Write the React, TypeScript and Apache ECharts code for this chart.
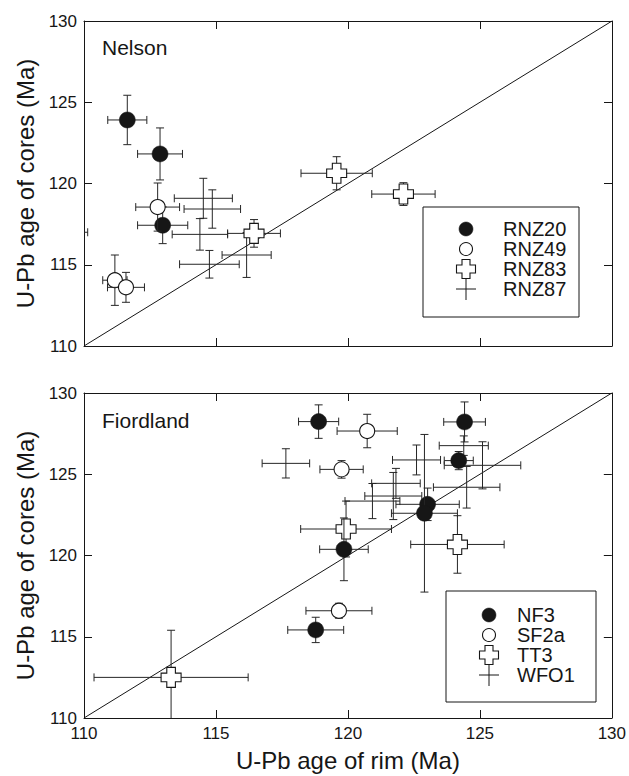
import React, { useEffect, useRef } from 'react';
import * as echarts from 'echarts';

// ---------- data ----------
const AXIS_MIN = 110;
const AXIS_MAX = 130;
const TICK_STEP = 5;
const X_TITLE = 'U-Pb age of rim (Ma)';
const Y_TITLE = 'U-Pb age of cores (Ma)';
const PANEL_NAMES = ['Nelson', 'Fiordland'];

// each row: [rim age, core age, rim error (±), core error (±)]
const RNZ20 = [
  [111.64, 123.91, 0.74, 1.52],
  [112.88, 121.82, 0.85, 1.6],
  [112.98, 117.43, 0.95, 1.13],
];
const RNZ49 = [
  [112.79, 118.55, 0.83, 1.48],
  [111.17, 114.05, 0.46, 1.55],
  [111.59, 113.61, 0.7, 0.92],
];
const RNZ83 = [
  [116.44, 116.93, 1.0, 0.85],
  [119.57, 120.63, 1.35, 1.02],
  [122.1, 119.35, 1.2, 0.7],
];
const RNZ87 = [
  [114.52, 119.09, 1.1, 1.23],
  [114.86, 118.43, 1.07, 1.18],
  [114.39, 116.87, 1.05, 0.97],
  [114.75, 115.03, 1.13, 0.85],
  [116.16, 115.6, 0.93, 1.38],
  [109.0, 117.0, 1.14, 1.0],
];

const NF3 = [
  [118.89, 128.24, 0.76, 1.03],
  [118.78, 115.42, 1.06, 0.78],
  [119.85, 120.38, 0.92, 1.93],
  [124.42, 128.22, 0.79, 1.23],
  [124.2, 125.84, 0.55, 0.56],
  [123.02, 123.15, 1.2, 1.0],
  [122.9, 122.6, 1.25, 4.85],
];
const SF2A = [
  [120.73, 127.66, 1.14, 1.03],
  [119.76, 125.3, 0.82, 0.54],
  [119.66, 116.6, 1.25, 0.46],
];
const TT3 = [
  [113.3, 112.5, 2.92, 2.9],
  [119.93, 121.63, 1.72, 1.72],
  [124.15, 120.68, 1.77, 1.77],
];
const WFO1 = [
  [117.65, 125.67, 0.9, 0.9],
  [122.6, 125.88, 0.91, 0.92],
  [125.1, 125.55, 1.45, 1.45],
  [124.39, 126.76, 0.93, 0.6],
  [124.5, 124.2, 1.26, 1.28],
  [121.82, 124.44, 0.92, 0.92],
  [120.93, 123.35, 1.04, 1.08],
  [121.72, 123.66, 1.08, 1.45],
];

const ONE_TO_ONE = [
  [110, 110],
  [130, 130],
];

const TOP_NAMES = ['RNZ20', 'RNZ49', 'RNZ83', 'RNZ87'];
const BOTTOM_NAMES = ['NF3', 'SF2a', 'TT3', 'WFO1'];
const KINDS = ['filled', 'open', 'cross', 'plus'];

// ---------- style ----------
const INK = '#161616';
const BAR = '#262626';
const FONT = '"Liberation Sans", Arial, Helvetica, sans-serif';
const CAP = 4;

type Kind = 'filled' | 'open' | 'cross' | 'plus';

function crossPoints(cx: number, cy: number, L: number, a: number) {
  return [
    [cx - a, cy - L], [cx + a, cy - L], [cx + a, cy - a], [cx + L, cy - a],
    [cx + L, cy + a], [cx + a, cy + a], [cx + a, cy + L], [cx - a, cy + L],
    [cx - a, cy + a], [cx - L, cy + a], [cx - L, cy - a], [cx - a, cy - a],
  ];
}

function markerEls(kind: Kind, cx: number, cy: number, legend: boolean, z?: number) {
  const zz = z === undefined ? {} : { z };
  if (kind === 'filled') {
    return [{ type: 'circle', ...zz, shape: { cx, cy, r: legend ? 7 : 8 }, style: { fill: INK, stroke: INK, lineWidth: 0.5 } }];
  }
  if (kind === 'open') {
    return [{ type: 'circle', ...zz, shape: { cx, cy, r: legend ? 6.5 : 7.5 }, style: { fill: '#fff', stroke: INK, lineWidth: 1.1 } }];
  }
  if (kind === 'cross') {
    return [{ type: 'polygon', ...zz, shape: { points: legend ? crossPoints(cx, cy, 9.5, 4) : crossPoints(cx, cy, 10, 4.3) }, style: { fill: '#fff', stroke: INK, lineWidth: 1.1 } }];
  }
  if (legend) {
    return [
      { type: 'line', ...zz, shape: { x1: cx - 10, y1: cy, x2: cx + 10, y2: cy }, style: { stroke: INK, lineWidth: 1 } },
      { type: 'line', ...zz, shape: { x1: cx, y1: cy - 11, x2: cx, y2: cy + 11 }, style: { stroke: INK, lineWidth: 1 } },
    ];
  }
  return [];
}

function makeRenderItem(kind: Kind) {
  return (params: any, api: any) => {
    const x = api.value(0);
    const y = api.value(1);
    const xe = api.value(2);
    const ye = api.value(3);
    const c = api.coord([x, y]);
    const l = api.coord([x - xe, y]);
    const r = api.coord([x + xe, y]);
    const t = api.coord([x, y + ye]);
    const b = api.coord([x, y - ye]);
    const ls = { stroke: BAR, lineWidth: 1 };
    const children: any[] = [
      { type: 'line', shape: { x1: l[0], y1: c[1], x2: r[0], y2: c[1] }, style: ls },
      { type: 'line', shape: { x1: l[0], y1: c[1] - CAP, x2: l[0], y2: c[1] + CAP }, style: ls },
      { type: 'line', shape: { x1: r[0], y1: c[1] - CAP, x2: r[0], y2: c[1] + CAP }, style: ls },
      { type: 'line', shape: { x1: c[0], y1: t[1], x2: c[0], y2: b[1] }, style: ls },
      { type: 'line', shape: { x1: c[0] - CAP, y1: t[1], x2: c[0] + CAP, y2: t[1] }, style: ls },
      { type: 'line', shape: { x1: c[0] - CAP, y1: b[1], x2: c[0] + CAP, y2: b[1] }, style: ls },
      ...markerEls(kind, c[0], c[1], false),
    ];
    return { type: 'group', children };
  };
}

function errSeries(name: string, data: number[][], kind: Kind, axis: number) {
  return {
    name,
    type: 'custom',
    coordinateSystem: 'cartesian2d',
    xAxisIndex: axis,
    yAxisIndex: axis,
    clip: true,
    z: 3,
    data,
    renderItem: makeRenderItem(kind),
  };
}

function legendEls(names: string[], box: { x: number; y: number; width: number; height: number }, markerX: number, textX: number, row0: number, gap: number) {
  const els: any[] = [
    { type: 'rect', z: 10, shape: box, style: { fill: '#fff', stroke: INK, lineWidth: 1 } },
  ];
  names.forEach((n, i) => {
    const cy = row0 + i * gap;
    els.push(...markerEls(KINDS[i] as Kind, markerX, cy, true, 11));
    els.push({
      type: 'text',
      z: 11,
      x: textX,
      y: cy,
      style: { text: n, fill: INK, fontSize: 20, fontFamily: FONT, align: 'left', verticalAlign: 'middle' },
    });
  });
  return els;
}

const GRIDS = [
  { left: 84, top: 21, width: 528, height: 325 },
  { left: 84, top: 393, width: 528, height: 325 },
];

const baseAxis = {
  type: 'value',
  min: AXIS_MIN,
  max: AXIS_MAX,
  interval: TICK_STEP,
  axisLine: { show: true, onZero: false, lineStyle: { color: INK, width: 1 } },
  axisTick: { show: true, inside: true, length: 8, lineStyle: { color: INK, width: 1 } },
  splitLine: { show: false },
  axisLabel: { show: false },
};

const labelStyle = { show: true, color: INK, fontSize: 17, fontFamily: FONT, margin: 7 };
const nameStyle = { color: INK, fontSize: 24, fontFamily: FONT };

function buildOption() {
  const xAxis = [
    { ...baseAxis, gridIndex: 0, position: 'bottom' },
    { ...baseAxis, gridIndex: 0, position: 'top' },
    {
      ...baseAxis, gridIndex: 1, position: 'bottom', axisLabel: labelStyle,
      name: X_TITLE, nameLocation: 'middle', nameGap: 30, nameTextStyle: nameStyle,
    },
    { ...baseAxis, gridIndex: 1, position: 'top' },
  ];
  const yAxis = [
    {
      ...baseAxis, gridIndex: 0, position: 'left', axisLabel: labelStyle,
      name: Y_TITLE, nameLocation: 'middle', nameGap: 44, nameTextStyle: nameStyle,
    },
    { ...baseAxis, gridIndex: 0, position: 'right' },
    {
      ...baseAxis, gridIndex: 1, position: 'left', axisLabel: labelStyle,
      name: Y_TITLE, nameLocation: 'middle', nameGap: 44, nameTextStyle: nameStyle,
    },
    { ...baseAxis, gridIndex: 1, position: 'right' },
  ];
  const lineSeries = (axis: number) => ({
    type: 'line',
    xAxisIndex: axis,
    yAxisIndex: axis,
    data: ONE_TO_ONE,
    showSymbol: false,
    symbol: 'none',
    z: 1,
    lineStyle: { color: INK, width: 1 },
    silent: true,
  });
  const series = [
    lineSeries(0),
    lineSeries(2),
    errSeries('RNZ87', RNZ87, 'plus', 0),
    errSeries('RNZ83', RNZ83, 'cross', 0),
    errSeries('RNZ20', RNZ20, 'filled', 0),
    errSeries('RNZ49', RNZ49, 'open', 0),
    errSeries('WFO1', WFO1, 'plus', 2),
    errSeries('TT3', TT3, 'cross', 2),
    errSeries('SF2a', SF2A, 'open', 2),
    errSeries('NF3', NF3, 'filled', 2),
  ];
  const graphic = [
    { type: 'text', z: 11, x: 102, y: 47, style: { text: PANEL_NAMES[0], fill: INK, fontSize: 21, fontFamily: FONT, align: 'left', verticalAlign: 'middle' } },
    { type: 'text', z: 11, x: 102, y: 420, style: { text: PANEL_NAMES[1], fill: INK, fontSize: 21, fontFamily: FONT, align: 'left', verticalAlign: 'middle' } },
    ...legendEls(TOP_NAMES, { x: 423, y: 207, width: 156, height: 110 }, 466, 503, 229, 20),
    ...legendEls(BOTTOM_NAMES, { x: 446, y: 591, width: 150, height: 111 }, 489, 517, 615, 20),
  ];
  return {
    animation: false,
    backgroundColor: '#fff',
    grid: GRIDS,
    xAxis,
    yAxis,
    series,
    graphic,
  };
}

export default function App() {
  const ref = useRef<HTMLDivElement>(null);
  useEffect(() => {
    if (!ref.current) return;
    const chart = echarts.init(ref.current, null, { renderer: 'svg' });
    chart.setOption(buildOption() as any);
    return () => chart.dispose();
  }, []);
  return (
    <div
      ref={ref}
      style={{ position: 'absolute', left: 0, top: 0, width: 629, height: 776, background: '#fff' }}
    />
  );
}
